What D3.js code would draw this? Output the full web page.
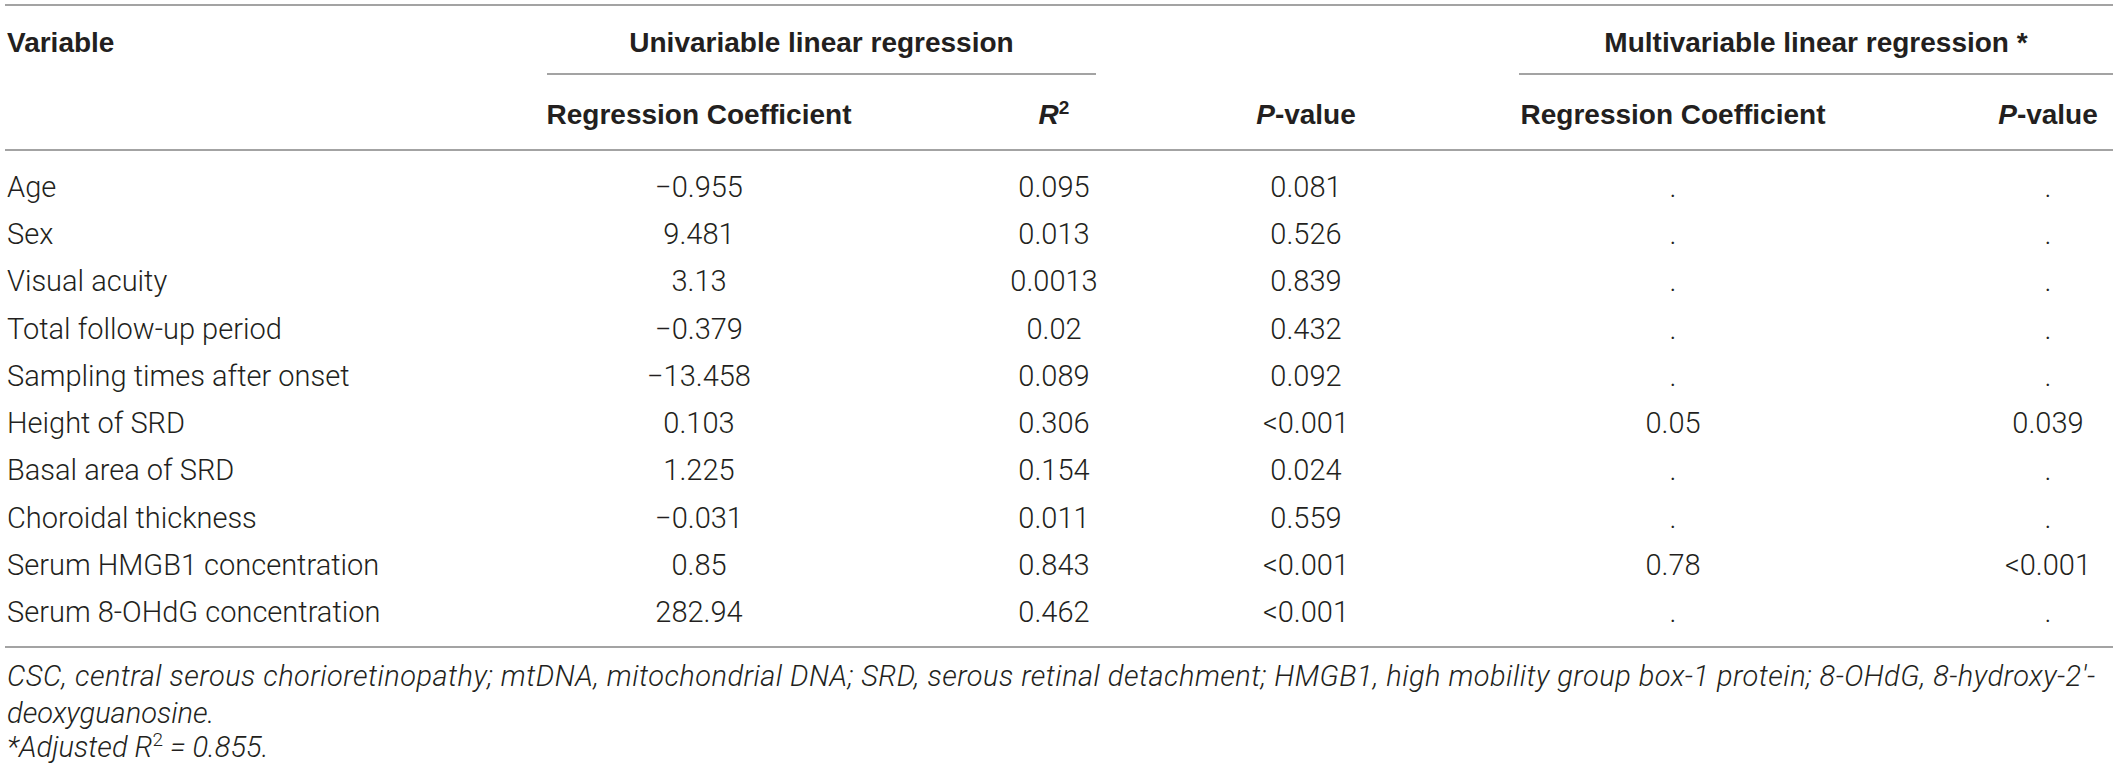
<!DOCTYPE html>
<html>
<head>
<meta charset="utf-8">
<script src="https://cdn.jsdelivr.net/npm/d3@7"></script>
<style>
  html, body { margin: 0; padding: 0; background: #fff; }
  svg { display: block; }
</style>
</head>
<body>
<svg id="chart" width="2118" height="772"></svg>
<script>
// ---- data ----
const variables = [
  "Age", "Sex", "Visual acuity", "Total follow-up period", "Sampling times after onset",
  "Height of SRD", "Basal area of SRD", "Choroidal thickness",
  "Serum HMGB1 concentration", "Serum 8-OHdG concentration"
];
const uniCoef = ["\u22120.955", "9.481", "3.13", "\u22120.379", "\u221213.458", "0.103", "1.225", "\u22120.031", "0.85", "282.94"];
const uniR2   = ["0.095", "0.013", "0.0013", "0.02", "0.089", "0.306", "0.154", "0.011", "0.843", "0.462"];
const uniP    = ["0.081", "0.526", "0.839", "0.432", "0.092", "<0.001", "0.024", "0.559", "<0.001", "<0.001"];
const multiCoef = [".", ".", ".", ".", ".", "0.05", ".", ".", "0.78", "."];
const multiP    = [".", ".", ".", ".", ".", "0.039", ".", ".", "<0.001", "."];
const columnKeys = ["uniCoef", "uniR2", "uniP", "multiCoef", "multiP"];
const footnote1 = "CSC, central serous chorioretinopathy; mtDNA, mitochondrial DNA; SRD, serous retinal detachment; HMGB1, high mobility group box-1 protein; 8-OHdG, 8-hydroxy-2\u2032-";
const footnote2 = "deoxyguanosine.";

// ---- layout ----
const svg = d3.select("#chart");
const HFONT = "'Liberation Sans', Arial, Helvetica, sans-serif";
const BFONT = "Roboto, 'Liberation Sans', Arial, sans-serif";
const TEXT = "#231f20";
const RULE = "#a3a3a3";

const yRow = d3.scalePoint().domain(variables).range([197, 622]);
const xCol = d3.scaleOrdinal().domain(columnKeys).range([699, 1054, 1306, 1673, 2048]);
const colData = { uniCoef, uniR2, uniP, multiCoef, multiP };

// rules
function rule(x1, x2, y) {
  svg.append("line").attr("x1", x1).attr("x2", x2).attr("y1", y).attr("y2", y)
    .attr("stroke", RULE).attr("stroke-width", 2);
}
rule(5, 2113, 5);
rule(547, 1096, 74);
rule(1519, 2113, 74);
rule(5, 2113, 150);
rule(5, 2113, 647);

// header row 1
const hdr = svg.append("g").attr("font-family", HFONT).attr("font-size", 28)
  .attr("font-weight", "bold").attr("fill", TEXT);
hdr.append("text").attr("x", 7).attr("y", 52).text("Variable");
hdr.append("text").attr("x", (547 + 1096) / 2).attr("y", 52).attr("text-anchor", "middle")
  .text("Univariable linear regression");
hdr.append("text").attr("x", (1519 + 2113) / 2).attr("y", 52).attr("text-anchor", "middle")
  .text("Multivariable linear regression *");

// header row 2
const h2y = 124;
hdr.append("text").attr("x", xCol("uniCoef")).attr("y", h2y).attr("text-anchor", "middle")
  .text("Regression Coefficient");
const r2 = hdr.append("text").attr("x", xCol("uniR2")).attr("y", h2y).attr("text-anchor", "middle");
r2.append("tspan").attr("font-style", "italic").text("R");
r2.append("tspan").attr("font-size", 19).attr("dy", -10).text("2");
function pval(key) {
  const t = hdr.append("text").attr("x", xCol(key)).attr("y", h2y).attr("text-anchor", "middle");
  t.append("tspan").attr("font-style", "italic").text("P");
  t.append("tspan").text("-value");
}
pval("uniP");
hdr.append("text").attr("x", xCol("multiCoef")).attr("y", h2y).attr("text-anchor", "middle")
  .text("Regression Coefficient");
pval("multiP");

// body
const body = svg.append("g").attr("font-family", BFONT).attr("font-size", 29)
  .attr("font-weight", 300).attr("fill", TEXT);
body.selectAll("text.var").data(variables).join("text")
  .attr("class", "var").attr("x", 7).attr("y", d => yRow(d)).text(d => d);

columnKeys.forEach(key => {
  body.selectAll("text." + key).data(colData[key]).join("text")
    .attr("class", key)
    .attr("x", xCol(key))
    .attr("y", (d, i) => yRow(variables[i]))
    .attr("text-anchor", "middle")
    .text(d => d);
});

// footnotes
const foot = svg.append("g").attr("font-family", BFONT).attr("font-size", 29)
  .attr("font-weight", 300).attr("font-style", "italic").attr("fill", TEXT);
foot.append("text").attr("x", 7).attr("y", 686)
  .attr("textLength", 2088).attr("lengthAdjust", "spacing").text(footnote1);
foot.append("text").attr("x", 7).attr("y", 723).text(footnote2);
const f3 = foot.append("text").attr("x", 7).attr("y", 757);
f3.append("tspan").text("*Adjusted ");
f3.append("tspan").text("R");
f3.append("tspan").attr("font-size", 19).attr("dy", -11).attr("font-style", "normal").text("2");
f3.append("tspan").attr("dy", 11).text(" = 0.855.");
</script>
</body>
</html>
